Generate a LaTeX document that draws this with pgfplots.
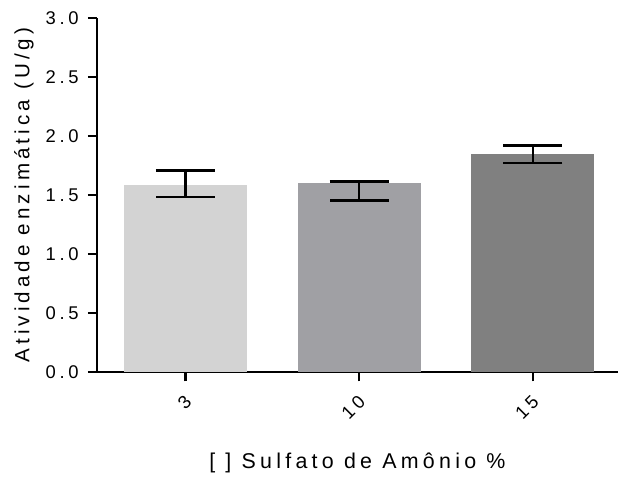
\documentclass[border=0pt]{standalone}
\usepackage{fontspec}
\setmainfont{Liberation Sans}[LetterSpace=20]
\usepackage{pgfplots}
\pgfplotsset{compat=1.18}
\definecolor{barA}{HTML}{D3D3D3}
\definecolor{barB}{HTML}{A0A0A4}
\definecolor{barC}{HTML}{808080}
\begin{document}
\begin{tikzpicture}
\begin{axis}[
  scale only axis,
  width=522bp, height=355bp,
  xmin=-0.51, xmax=2.49,
  ymin=0, ymax=3,
  axis x line*=bottom, axis y line*=left,
  axis line style={line width=2.2pt, -},
  xtick={0,1,2}, xticklabels={3,10,15},
  ytick={0,0.5,1,1.5,2,2.5,3},
  yticklabel style={inner sep=0pt, xshift=-9bp, /pgf/number format/.cd, fixed, fixed zerofill, precision=1, assume math mode=true},
  tick style={line width=2.2pt, black},
  major tick length=9bp,
  tick align=outside,
  xticklabel style={rotate=45, anchor=east, inner sep=0pt, xshift=-10.5bp, yshift=-14.5bp},
  every tick label/.append style={font=\fontsize{18.5}{21}\selectfont},
  ylabel={Atividade enzimática (U/g)},
  xlabel={[ ] Sulfato de Amônio \%},
  ylabel style={font=\fontsize{20.7}{23}\selectfont, at={(axis description cs:-0.1398,0.5)}, anchor=center},
  xlabel style={font=\fontsize{21.5}{24}\selectfont, at={(axis description cs:0.5,-0.2423)}, anchor=center, yshift=-5bp},
  bar width=0.707,
  clip=false,
  every axis plot/.append style={ybar, draw=none,
    error bars/y dir=both, error bars/y explicit,
    error bars/error bar style={line width=2.4pt, black, solid},
    error bars/error mark options={line width=2.4pt, black, mark size=29.5bp, rotate=90}},
]
\addplot[fill=barA] coordinates {(0,1.585) += (0,0.125) -= (0,0.100)};
\addplot[fill=barB] coordinates {(1,1.604) += (0,0.011) -= (0,0.150)};
\addplot[fill=barC] coordinates {(2,1.849) += (0,0.072) -= (0,0.076)};
\path (rel axis cs:0,0) ++(-97bp,-99bp) (rel axis cs:1,1) ++(0bp,18bp);
\end{axis}
\end{tikzpicture}
\end{document}
